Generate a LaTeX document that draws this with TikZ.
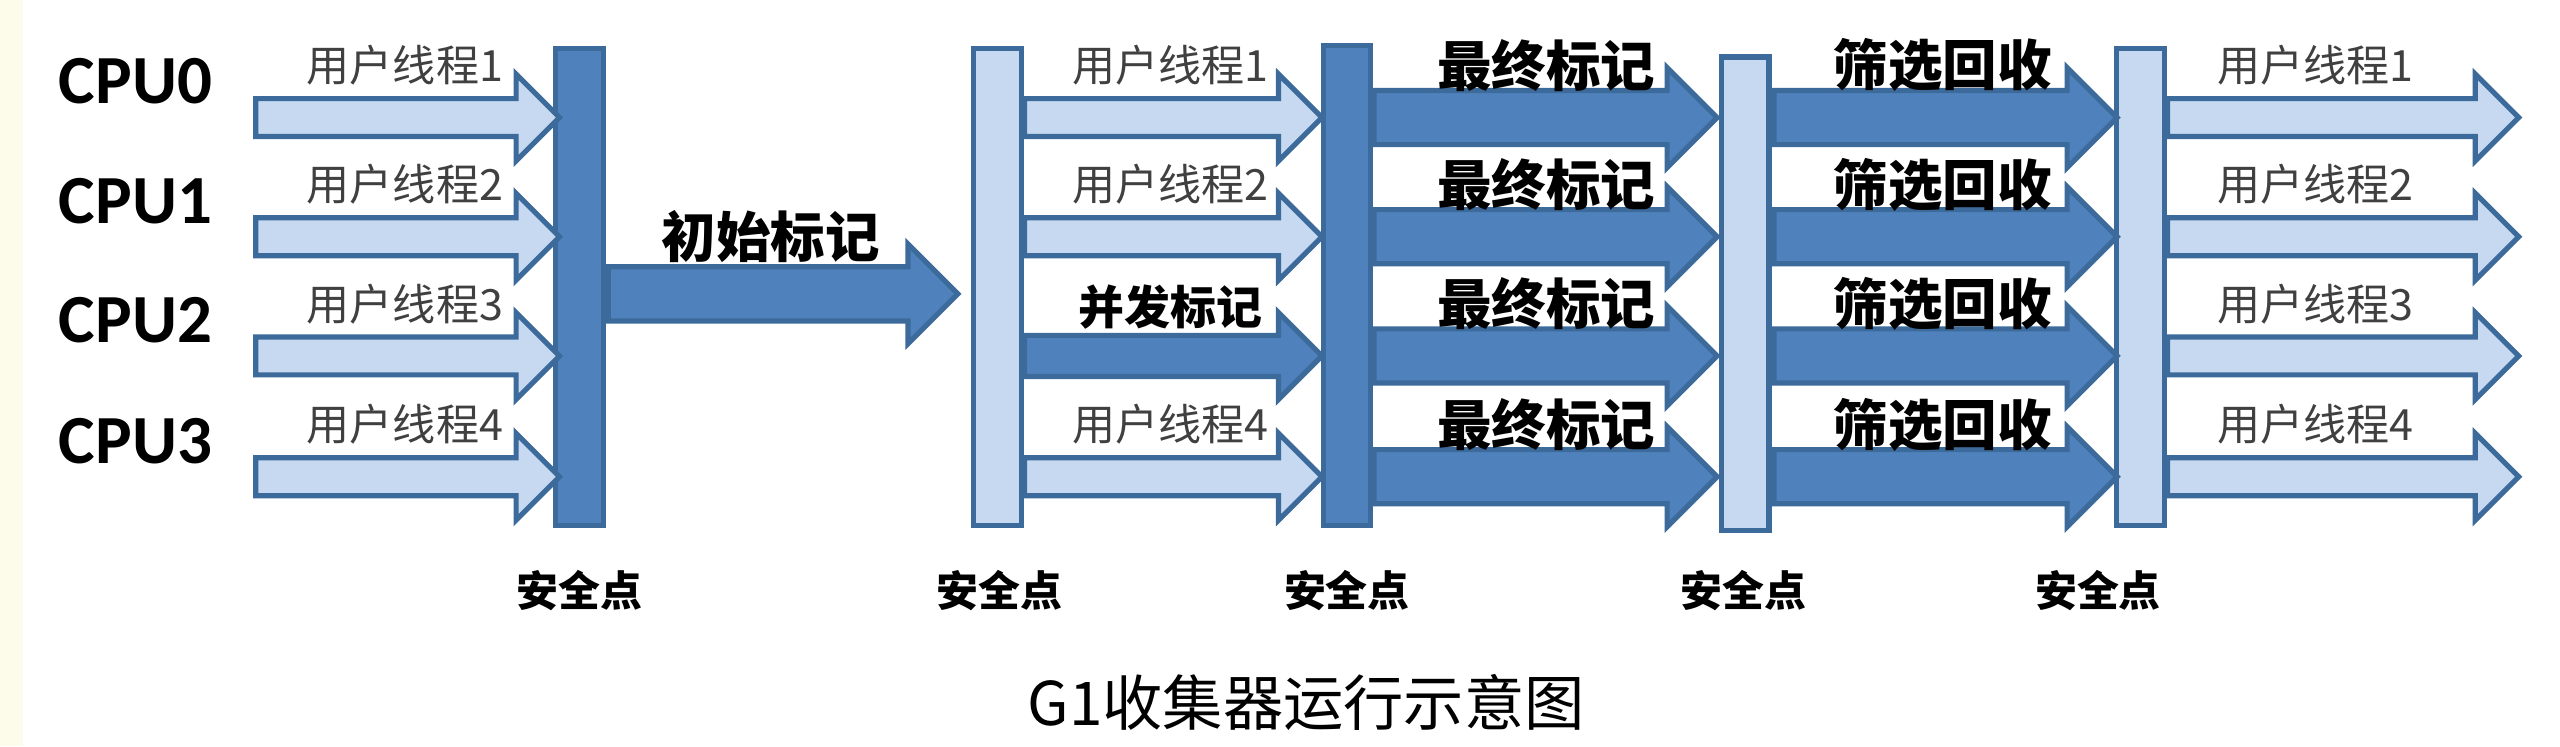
\documentclass[tikz,border=0pt]{standalone}
\usepackage{fontspec}
\setmainfont{Carlito}
\newfontfamily\cjk{Noto Sans CJK SC}
\usetikzlibrary{shapes.arrows}
\definecolor{darkblue}{HTML}{4F81BD}
\definecolor{lightblue}{HTML}{C6D9F1}
\definecolor{edgeblue}{HTML}{3C6A9A}
\definecolor{cream}{HTML}{FDFBEA}
\tikzset{
  bar/.style={draw=edgeblue, line width=0.9pt, minimum width=0.29cm, inner sep=0pt},
  darkbar/.style={bar, fill=darkblue},
  lightbar/.style={bar, fill=lightblue},
  thread/.style={single arrow, draw=edgeblue, line width=0.9pt, fill=lightblue, anchor=west,
    inner xsep=0pt, inner ysep=0.1cm, single arrow head extend=0.15cm, single arrow head indent=0pt},
  phase/.style={single arrow, draw=edgeblue, line width=0.9pt, fill=darkblue, anchor=west,
    inner xsep=0pt, inner ysep=0.15cm, single arrow head extend=0.14cm, single arrow head indent=0pt},
  tlabel/.style={font=\cjk\fontsize{7.5}{8}\selectfont, text=black!75},
  plabel/.style={font=\cjk\bfseries\fontsize{9.5}{10}\selectfont},
  cpu/.style={font=\bfseries\fontsize{12}{13}\selectfont},
  safe/.style={font=\cjk\bfseries\fontsize{7.3}{8}\selectfont}
}
\begin{document}
\begin{tikzpicture}[x=0.01cm, y=-0.01cm]
\useasboundingbox (0,0) rectangle (1568,457);
\fill[cream] (0,0) rectangle (14,457);
% safepoint bars
\node[darkbar, minimum height=2.92cm] (b1) at (355,176) {};
\node[lightbar, minimum height=2.92cm] (b2) at (611,176) {};
\node[darkbar, minimum height=2.94cm] (b3) at (825,175) {};
\node[lightbar, minimum height=2.90cm] (b4) at (1069,180) {};
\node[lightbar, minimum height=2.92cm] (b5) at (1311,176) {};
% cpu rows
\foreach \i/\y in {0/72,1/145,2/218,3/292}{
  \node[cpu] (cpu\i) at (83,\y-22) {CPU\i};
}
\foreach \n/\y in {1/72,2/145,3/218,4/292}{
  \node[thread, minimum height=1.86cm] (ua\n) at (155,\y) {};
  \node[tlabel] (ula\n) at (248,\y-32) {用户线程\n};
  \node[phase, minimum height=2.10cm] (fm\n) at (840,\y) {};
  \node[plabel] (fml\n) at (947,\y-32) {最终标记};
  \node[phase, minimum height=2.10cm] (sc\n) at (1085,\y) {};
  \node[plabel] (scl\n) at (1190,\y-32) {筛选回收};
  \node[thread, minimum height=2.15cm] (uc\n) at (1326,\y) {};
  \node[tlabel] (ucl\n) at (1418,\y-32) {用户线程\n};
}
% initial mark
\node[phase, minimum height=2.14cm] (im) at (371,180) {};
\node[plabel] (iml) at (472,145) {初始标记};
% concurrent phase
\foreach \n/\y in {1/72,2/145,4/292}{
  \node[thread, minimum height=1.82cm] (ub\n) at (626,\y) {};
  \node[tlabel] (ulb\n) at (717,\y-32) {用户线程\n};
}
\node[phase, inner ysep=0.11cm, minimum height=1.82cm] (cm) at (626,218) {};
\node[plabel, font=\cjk\bfseries\fontsize{8}{9}\selectfont] (cml) at (717,188) {并发标记};
% safepoint labels
\foreach \b/\x in {b1/355,b2/612,b3/825,b4/1068,b5/1285}{
  \node[safe] (s\b) at (\x,362) {安全点};
}
\node[font=\cjk\fontsize{10.5}{11}\selectfont] (title) at (800,430) {G1收集器运行示意图};
\end{tikzpicture}
\end{document}
